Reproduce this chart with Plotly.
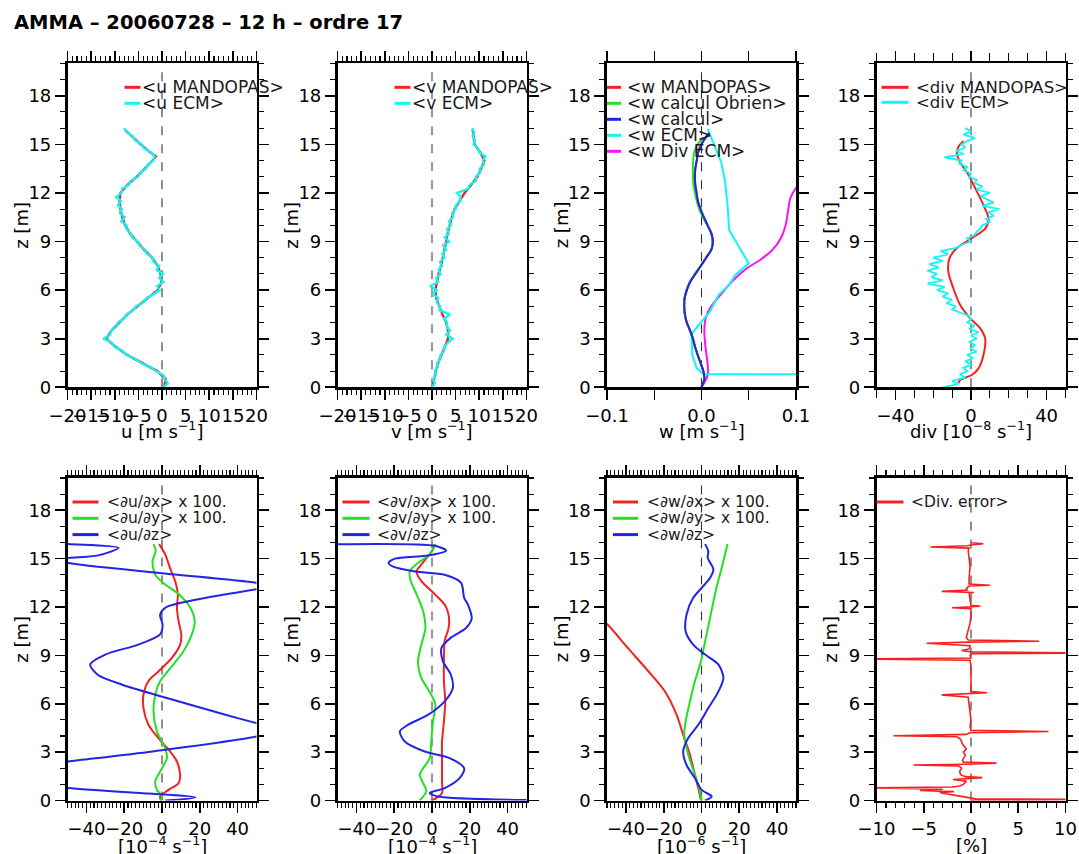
import plotly.graph_objects as go

TITLE = "AMMA – 20060728 – 12 h – ordre 17"

# ---------------- common height grids (m) ----------------
z_half = [0, 0.5, 1, 1.5, 2, 2.5, 3, 3.5, 4, 4.5, 5, 5.5, 6, 6.5, 7, 7.5, 8, 8.5, 9, 9.5,
          10, 10.5, 11, 11.5, 12, 12.5, 13, 13.5, 14, 14.5, 15, 15.5, 15.9]
z_quarter = [0, 0.25, 0.5, 0.75, 1, 1.25, 1.5, 1.75, 2, 2.25, 2.5, 2.75, 3, 3.25, 3.5, 3.75,
             4, 4.25, 4.5, 4.75, 5, 5.25, 5.5, 5.75, 6, 6.25, 6.5, 6.75, 7, 7.25, 7.5, 7.75,
             8, 8.25, 8.5, 8.75, 9, 9.25, 9.5, 9.75, 10, 10.25, 10.5, 10.75, 11, 11.25, 11.5, 11.75,
             12, 12.25, 12.5, 12.75, 13, 13.25, 13.5, 13.75, 14, 14.25, 14.5, 14.75, 15, 15.25, 15.5, 15.75, 16]
z_fifth = [0, 0.2, 0.4, 0.6, 0.8, 1, 1.2, 1.4, 1.6, 1.8, 2, 2.2, 2.4, 2.6, 2.8, 3, 3.2, 3.4, 3.6, 3.8,
           4, 4.2, 4.4, 4.6, 4.8, 5, 5.2, 5.4, 5.6, 5.8, 6, 6.2, 6.4, 6.6, 6.8, 7, 7.2, 7.4, 7.6, 7.8,
           8, 8.2, 8.4, 8.6, 8.8, 9, 9.2, 9.4, 9.6, 9.8, 10, 10.2, 10.4, 10.6, 10.8, 11, 11.2, 11.4, 11.6, 11.8,
           12, 12.2, 12.4, 12.6, 12.8, 13, 13.2, 13.4, 13.6, 13.8, 14, 14.2, 14.4, 14.6, 14.8, 15, 15.2, 15.4, 15.6, 15.8, 16]

# ---------------- panel 1 : u [m/s] ----------------
z_u = [0, 0.5, 1, 1.5, 2, 2.5, 3, 3.5, 4, 4.5, 5, 5.5, 6, 6.5, 7, 7.5, 8, 8.5, 9, 9.5,
       10, 10.5, 11, 11.5, 12, 12.5, 13, 13.5, 14, 14.25, 14.5, 15, 15.5, 15.9]
u_mandopas = [0.4, 0.8, -1.0, -4.2, -7.4, -9.8, -11.8, -10.7, -9.1, -7.3, -5.2, -3.0, -0.9, -0.1, -0.3, -0.9,
              -2.1, -3.8, -5.3, -6.8, -7.8, -8.4, -8.8, -9.0, -8.8, -7.3, -5.3, -3.6, -2.0, -1.3, -2.5, -4.5, -6.4, -7.9]
u_ecm = [0.2, 1.2, 0.6, 0.3, -1.3, -2.4, -4.5, -5.6, -7.6, -8.4, -10.1, -10.6, -12.4, -11.0, -10.8, -9.6,
         -9.3, -8.0, -7.5, -6.1, -5.5, -3.9, -3.3, -1.7, -0.5, -1.0, 0.3, -0.6, 0.2, -1.1, -0.6, -1.8,
         -1.9, -3.2, -3.6, -4.8, -5.1, -6.3, -6.6, -7.5, -7.5, -8.6, -7.9, -8.9, -8.5, -9.3, -8.7, -9.7,
         -8.6, -8.4, -7.0, -6.6, -5.0, -4.7, -3.4, -3.0, -1.8, -1.6, -2.3, -3.8, -4.3, -5.7, -6.2, -7.5, -8.0]

# ---------------- panel 2 : v [m/s] ----------------
v_mandopas = [0.1, 0.4, 0.8, 1.3, 2.0, 2.8, 3.4, 3.4, 3.0, 2.2, 1.5, 0.9, 0.7, 1.0, 1.4, 1.9, 2.3, 2.7, 3.0, 3.3,
              3.7, 4.2, 4.8, 5.8, 6.9, 8.3, 9.6, 10.4, 11.1, 10.2, 9.0, 8.8, 8.6]
v_ecm = [0.0, 0.6, 0.2, 0.8, 0.6, 1.2, 1.1, 1.8, 1.8, 2.6, 2.6, 3.3, 4.4, 3.0, 3.8, 3.1,
         3.2, 2.6, 3.8, 1.6, 1.7, 1.0, 1.3, 0.2, 1.0, -0.4, 1.3, 0.9, 1.8, 1.4, 2.1, 1.7,
         2.6, 2.2, 3.0, 2.4, 3.6, 2.7, 3.6, 3.2, 4.0, 3.6, 4.5, 4.3, 5.0, 5.1, 6.0, 6.1,
         5.3, 7.6, 8.0, 9.3, 9.3, 10.2, 10.1, 11.0, 10.8, 11.3, 10.0, 9.8, 8.8, 9.1, 8.6, 8.9, 8.5]

# ---------------- panel 3 : w [m/s] ----------------
z_wcalc = [0, 0.5, 1, 1.5, 2, 2.5, 3, 3.5, 4, 4.5, 5, 5.5, 6, 6.5, 7, 7.5, 8, 8.5, 9, 9.5,
           10, 10.5, 11, 11.5, 12, 12.5, 13, 13.5, 14, 14.5, 15, 15.5, 15.7]
w_mandopas = [0.0, 0.003, 0.002, -0.001, -0.004, -0.0068, -0.009, -0.0121, -0.0156, -0.0176, -0.0183, -0.0179,
              -0.0156, -0.0121, -0.0066, -0.0006, 0.0049, 0.0104, 0.0119, 0.0104, 0.0064, 0.0024, -0.0011,
              -0.0039, -0.0053, -0.0066, -0.0071, -0.0066, -0.0051, -0.0036, -0.0001, 0.0054, 0.0084]
w_calcul = [0.0, 0.003, 0.002, -0.001, -0.004, -0.0068, -0.009, -0.012, -0.0155, -0.0175, -0.0182, -0.0178,
            -0.0155, -0.012, -0.0065, -0.0005, 0.005, 0.0105, 0.012, 0.0105, 0.0065, 0.0025, -0.001,
            -0.0038, -0.0052, -0.0065, -0.007, -0.0065, -0.005, -0.0035, 0.0, 0.0055, 0.0085]
z_wob = [0, 0.5, 1, 1.5, 2, 2.5, 3, 3.5, 4, 4.5, 5, 5.5, 6, 6.5, 7, 7.5, 8, 8.5, 9, 9.5,
         10, 10.5, 11, 11.5, 12, 12.5, 13, 13.5, 14, 14.5, 15, 15.4]
w_obrien = [0.0, 0.003, 0.002, -0.001, -0.0042, -0.007, -0.0093, -0.0123, -0.0158, -0.0178,
            -0.0186, -0.0182, -0.016, -0.0125, -0.007, -0.001, 0.0045, 0.0102, 0.0118, 0.0102,
            0.006, 0.0015, -0.0025, -0.005, -0.007, -0.0085, -0.009, -0.0092, -0.0088, -0.0078, -0.004, 0.002]
z_wecm = [0.77, 0.82, 1.17, 2.0, 3.27, 3.95, 4.67, 5.7, 6.3, 6.93, 7.65, 9.7, 11.25, 12.7, 13.9, 15.1, 15.95]
w_ecm = [0.3, 0.002, -0.005, -0.0098, -0.0105, -0.0016, 0.009, 0.018, 0.029, 0.0357, 0.05, 0.0293,
         0.0275, 0.025, 0.0208, 0.0126, 0.0066]
z_wdiv = [0.0, 0.35, 0.76, 1.38, 2.4, 3.44, 4.26, 4.88, 5.7, 6.52, 7.35, 7.86, 8.48, 9.2, 10.0, 11.05,
          11.67, 12.3, 13.0, 14.0]
w_div_ecm = [0.0, 0.0037, 0.0066, 0.0066, 0.0044, 0.003, 0.0044, 0.009, 0.02, 0.032, 0.048, 0.062,
             0.075, 0.084, 0.089, 0.092, 0.094, 0.1, 0.112, 0.125]

# ---------------- panel 4 : div [1e-8 /s] ----------------
z_div = [0.25, 0.45, 0.76, 1.17, 2.0, 3.0, 3.64, 4.26, 5.1, 6.1, 7.14, 7.96, 8.6, 9.2, 9.8, 10.4,
         11.25, 12.3, 13.1, 13.9, 14.45, 14.85, 15.2]
div_mandopas = [-6.6, -5.8, 0.4, 4.0, 6.6, 7.5, 4.9, -0.4, -5.8, -9.3, -12, -11.4, -7.5, 0.4, 7.5, 9.3,
                6.6, 2.2, -1.3, -5.8, -7.5, -6.6, -4.0]
div_ecm = [-15, -7, -10, -3, -6, -2, -4, 0, -3, 1,
           -2, 3, 0, 2, -1, 3, 0, 4, -1, 2,
           -2, 0, -1, -5, -10, -8, -13, -10, -15, -12,
           -18, -14, -23, -15, -21, -18, -23, -17, -22, -15,
           -20, -12, -16, -8, -5, 0, -2, 2, 3, 5,
           6, 10, 8, 12, 9, 15, 6, 12, 8, 5,
           10, 3, 6, 2, 3, -1, 0, -4, -2, -6,
           -5, -14, -4, -8, -3, -5, -2, 2, -4, 0,
           -3]

# ---------------- panel 5 : du/dx, du/dy (x100), du/dz ----------------
z_dudx = [0, 0.25, 0.66, 1.08, 1.6, 2.42, 3.04, 3.87, 4.7, 5.73, 6.56, 7.4, 8.0, 8.84, 9.67, 10.3,
          11.1, 11.95, 12.8, 13.6, 14.4, 15.26, 15.9]
dudx = [-0.4, -1, 3.5, 8.8, 9.6, 7.9, 4.3, -1.9, -7.2, -9.8, -9.8, -7.2, -1.9, 5.2, 9.6, 10.2,
        8.8, 7.9, 8.4, 7, 4.3, 1.7, -1.5]
z_dudy = [0, 0.25, 0.66, 1.18, 1.8, 2.63, 3.25, 4.29, 5.53, 6.56, 7.4, 8.2, 9.25, 10.3, 11.1, 11.95,
          12.8, 13.4, 14.0, 14.85, 15.5, 15.9]
dudy = [-1, 0, -2.7, -3.6, -1, 2.6, 1.7, -2.7, -4.5, -3.6, -1, 4.3, 11.4, 15.8, 17.3, 15,
        8.8, 1.7, -3.6, -5, -3.3, -4.5]
z_dudz = [0, 0.19, 0.77, 1.2, 1.8, 2.26, 2.42, 3.04, 3.97, 4.4, 4.8, 5.3, 5.94, 6.56, 7.18, 7.8, 8.43,
          9.05, 9.67, 10.3, 10.9, 11.5, 11.95, 12.5, 13.1, 13.3, 13.5, 14.1, 14.74, 14.95, 15.2, 15.67,
          15.9, 16.0]
dudz = [1.7, 17.6, -49.6, -75, -75, -60, -49.6, -5, 50, 62, 50, 34, 15, -3.6, -21, -34, -38,
        -30, -12.5, -1, 0.3, -1, 1.7, 20, 50, 58, 50, 0, -50, -55, -33.7, -23,
        -49.6, -60]

# ---------------- panel 6 : dv/dx, dv/dy (x100), dv/dz ----------------
z_dvdx = [0, 0.15, 0.46, 1.18, 2.42, 3.66, 4.9, 6.15, 7.4, 8.6, 9.9, 10.7, 11.5, 12.15, 12.8, 13.6,
          14.2, 14.64, 15.57, 15.9]
dvdx = [-0.4, 2.3, 5.3, 5.3, 5.3, 5.3, 6.3, 7, 6.3, 6.3, 6.7, 8.8, 8.8, 6.7, 1.4, -5.6,
        -8.2, -5.6, 0.5, 1.4]
z_dvdy = [0, 0.56, 0.97, 1.6, 2.0, 2.63, 3.66, 4.9, 5.94, 6.56, 7.6, 8.63, 9.67, 10.7, 11.74, 12.8,
          13.6, 14.2, 14.74, 15.26, 15.9]
dvdy = [-6.5, -3, -4.2, -6.5, -4.7, -1.2, -0.4, 0.5, 1.8, -0.4, -5.6, -7.4, -5.6, -3.5, -4.7, -8.2,
        -11.2, -11.8, -7.4, -1.2, 1.8]
z_dvdz = [0, 0.25, 0.46, 0.77, 1.39, 2.0, 2.63, 3.04, 3.66, 4.29, 4.7, 5.32, 6.15, 6.98, 7.8, 8.63,
          9.46, 10.1, 10.7, 11.3, 12.15, 12.57, 13.5, 14.0, 14.2, 14.5, 14.74, 15.0, 15.2, 15.5, 15.78, 15.87]
dvdz = [70, 3.2, -1.2, 6.7, 14.6, 17, 9.3, -3.9, -14.4, -17, -12.6, -2, 6.7, 11, 10, 5.8,
        5, 10, 18, 21, 19, 17, 15.4, 6.7, -9, -20.5, -23, -19.6, -2, 7.5, 2, -60]

# ---------------- panel 7 : dw/dx, dw/dy (x100), dw/dz ----------------
z_dwdx = [0, 0.56, 1.6, 2.84, 4.08, 5.32, 6.77, 8.0, 9.46, 10.9, 11.5]
dwdx = [-0.3, -1.3, -3.5, -6.1, -9.7, -13.2, -19.4, -28, -39, -49.6, -56]
z_dwdy = [0, 0.56, 1.6, 2.84, 4.08, 4.9, 6.15, 7.4, 8.63, 9.87, 11.3, 12.98, 14.43, 15.9]
dwdy = [0, -0.8, -3.5, -7.0, -9.1, -8.4, -6.1, -3.5, -0.3, 1.9, 4.5, 7.5, 10.7, 13.8]
z_dwdz = [0, 0.25, 0.66, 1.39, 2.2, 3.04, 3.87, 4.7, 5.73, 6.77, 7.6, 8.43, 9.05, 9.67, 10.5, 11.53,
          12.57, 13.19, 13.8, 14.33, 15.05, 15.46, 15.9]
dwdz = [1.9, 5.4, 0.1, -3.5, -7.9, -9.7, -7, -1.7, 3.6, 9, 11.6, 9, 1.9, -4.4, -8.4, -7.9,
        -4.4, 0.1, 4.5, 6.3, 3.3, 3.6, 1.9]

# ---------------- panel 8 : divergence error [%] ----------------
z_err = [0.0, 0.06, 0.1, 0.2, 0.3, 0.4, 0.5, 0.55, 0.62, 0.7, 0.78, 0.84, 0.9, 1.0, 1.2, 1.3, 1.35,
         1.42, 1.48, 1.6, 1.8, 2.0, 2.15, 2.2, 2.25, 2.32, 2.38, 2.5, 2.8, 3.0, 3.2, 3.5, 3.8, 3.95,
         4.02, 4.1, 4.2, 4.28, 4.35, 4.6, 5.0, 5.5, 6.0, 6.4, 6.55, 6.62, 6.68, 6.75, 7.2, 7.8, 8.3,
         8.7, 8.78, 8.84, 9.0, 9.1, 9.15, 9.22, 9.3, 9.4, 9.6, 9.75, 9.82, 9.88, 9.95, 10.1, 10.5,
         11.0, 11.5, 11.9, 11.95, 12.0, 12.05, 12.1, 12.5, 12.85, 12.9, 12.97, 13.05, 13.15, 13.3,
         13.35, 13.42, 13.8, 14.5, 15.0, 15.5, 15.65, 15.72, 15.8, 15.85, 15.92, 15.98]
div_error = [0.0, 12, 0.5, -0.8, -1.5, -2.5, -3.3, -1.8, -5.4, -3.0, -11, -2.0, -1.2, -0.8, -0.5, -1.9, -0.4,
             1.2, -0.6, -1.1, -1.2, -1.0, -1.3, -6.1, -0.6, 2.7, -0.8, -0.9, -0.6, -0.8, -0.5, -0.9, -1.1, -1.5,
             -8.2, -0.5, -0.1, 8.2, 0.0, -0.1, 0.0, -0.1, -0.2, -0.3, -3.1, -0.1, 1.7, 0.0, 0.0, 0.0, 0.0,
             -0.1, -12, 0.0, -0.1, 0.0, 12, 0.0, -1.0, -0.2, -0.1, -4.7, -0.2, 7.2, -0.3, -0.5, -0.3,
             -0.1, 0.0, 0.0, -2.0, 0.0, 1.0, 0.0, -0.1, -0.2, 0.3, -3.1, -0.4, -0.5, -0.2,
             2.0, -0.2, -0.2, -0.1, -0.2, -0.3, -0.2, -4.3, -0.4, 0.0, 1.3, 0.0]

# ---------------- styling ----------------
RED, GREEN, BLUE, CYAN, MAGENTA = "#f52020", "#22e022", "#2424e6", "#12f5f5", "#f514f5"
W, H = 1079, 854
COLS = [(67.5, 256.5), (337.5, 526.5), (607.0, 796.0), (876.5, 1065.5)]
ROWS = [(63.3, 387.3), (478.0, 800.5)]
FONT = "DejaVu Sans"

fig = go.Figure()


def add(panel, x, y, color, width=2.0, shape="linear"):
    fig.add_trace(go.Scatter(x=x, y=y, mode="lines",
                             line=dict(color=color, width=width, shape=shape, smoothing=0.8),
                             xaxis="x" if panel == 1 else f"x{panel}",
                             yaxis="y" if panel == 1 else f"y{panel}",
                             showlegend=False, hoverinfo="skip"))


add(1, u_mandopas, z_u, RED, 2.4)
add(1, u_ecm, z_quarter, CYAN, 2.4)
add(2, v_mandopas, z_half, RED, 2.4)
add(2, v_ecm, z_quarter, CYAN, 2.4)
add(3, w_div_ecm, z_wdiv, MAGENTA, 2.0, "spline")
add(3, w_ecm, z_wecm, CYAN, 2.0)
add(3, w_mandopas, z_wcalc, RED, 2.0, "spline")
add(3, w_obrien, z_wob, GREEN, 2.0, "spline")
add(3, w_calcul, z_wcalc, BLUE, 2.0, "spline")
add(4, div_mandopas, z_div, RED, 2.0, "spline")
add(4, div_ecm, z_fifth, CYAN, 1.8)
add(5, dudx, z_dudx, RED, 2.0, "spline")
add(5, dudy, z_dudy, GREEN, 2.0, "spline")
add(5, dudz, z_dudz, BLUE, 2.0, "spline")
add(6, dvdx, z_dvdx, RED, 2.0, "spline")
add(6, dvdy, z_dvdy, GREEN, 2.0, "spline")
add(6, dvdz, z_dvdz, BLUE, 2.0, "spline")
add(7, dwdx, z_dwdx, RED, 2.0, "spline")
add(7, dwdy, z_dwdy, GREEN, 2.0, "spline")
add(7, dwdz, z_dwdz, BLUE, 2.0, "spline")
add(8, div_error, z_err, RED, 1.6)

# axis definitions per panel: range, tick values, tick labels, minor step, minor length
AXES = {
    1: ([-20, 20], [-20, -15, -10, -5, 0, 5, 10, 15, 20],
        ["−20", "−15", "−10", "−5", "0", "5", "10", "15", "20"], 1, 5),
    2: ([-20, 20], [-20, -15, -10, -5, 0, 5, 10, 15, 20],
        ["−20", "−15", "−10", "−5", "0", "5", "10", "15", "20"], 1, 5),
    3: ([-0.1, 0.1], [-0.1, 0, 0.1], ["−0.1", "0.0", "0.1"], 0.05, 10),
    4: ([-50, 50], [-40, 0, 40], ["−40", "0", "40"], 10, 8),
    5: ([-50, 50], [-40, -20, 0, 20, 40], ["−40", "−20", "0", "20", "40"], 2, 5),
    6: ([-50, 50], [-40, -20, 0, 20, 40], ["−40", "−20", "0", "20", "40"], 2, 5),
    7: ([-50, 50], [-40, -20, 0, 20, 40], ["−40", "−20", "0", "20", "40"], 2, 5),
    8: ([-10, 10], [-10, -5, 0, 5, 10], ["−10", "−5", "0", "5", "10"], 1, 5),
}
XTITLES = {
    1: "u [m s<sup>−1</sup>]", 2: "v [m s<sup>−1</sup>]", 3: "w [m s<sup>−1</sup>]",
    4: "div [10<sup>−8</sup> s<sup>−1</sup>]",
    5: "[10<sup>−4</sup> s<sup>−1</sup>]", 6: "[10<sup>−4</sup> s<sup>−1</sup>]",
    7: "[10<sup>−6</sup> s<sup>−1</sup>]", 8: "[%]",
}
LEGENDS = {
    1: [("<u MANDOPAS>", RED), ("<u ECM>", CYAN)],
    2: [("<v MANDOPAS>", RED), ("<v ECM>", CYAN)],
    3: [("<w MANDOPAS>", RED), ("<w calcul Obrien>", GREEN), ("<w calcul>", BLUE),
        ("<w ECM>", CYAN), ("<w Div ECM>", MAGENTA)],
    4: [("<div MANDOPAS>", RED), ("<div ECM>", CYAN)],
    5: [("<∂u/∂x> x 100.", RED), ("<∂u/∂y> x 100.", GREEN), ("<∂u/∂z>", BLUE)],
    6: [("<∂v/∂x> x 100.", RED), ("<∂v/∂y> x 100.", GREEN), ("<∂v/∂z>", BLUE)],
    7: [("<∂w/∂x> x 100.", RED), ("<∂w/∂y> x 100.", GREEN), ("<∂w/∂z>", BLUE)],
    8: [("<Div. error>", RED)],
}
# legend geometry (px from frame left): line start, line length, text start, font size, row step
LEG_GEOM = {
    1: (57, 16, 72, 17, 16), 2: (57, 16, 72, 17, 16), 3: (0, 14, 18, 17, 16), 4: (5, 27, 37, 16.5, 15),
    5: (5, 26, 37, 15.5, 16.3), 6: (5, 27, 37, 15.5, 16.3), 7: (6, 25, 38, 15.5, 16.3), 8: (0, 27, 32, 15.5, 16.3),
}

layout = dict(width=W, height=H, margin=dict(l=0, r=0, t=0, b=0, autoexpand=False),
              paper_bgcolor="white", plot_bgcolor="white", showlegend=False,
              font=dict(family=FONT, color="black"))
annotations = []
shapes = []

for p in range(1, 9):
    col = (p - 1) % 4
    row = (p - 1) // 4
    x0, x1 = COLS[col]
    ytop, ybot = ROWS[row]
    rng, tv, tt, mdt, mlen = AXES[p]
    xk = "xaxis" if p == 1 else f"xaxis{p}"
    yk = "yaxis" if p == 1 else f"yaxis{p}"
    xr = "x" if p == 1 else f"x{p}"
    yr = "y" if p == 1 else f"y{p}"
    layout[xk] = dict(domain=[x0 / W, x1 / W], range=rng, anchor=yr, automargin=False,
                      tickmode="array", tickvals=tv, ticktext=tt, tickangle=0,
                      ticks="outside", ticklen=10, tickwidth=1.6, tickcolor="black",
                      showline=True, linewidth=2.6, linecolor="black", mirror="ticks",
                      showgrid=False, zeroline=False,
                      tickfont=dict(family=FONT, size=18, color="black"),
                      minor=dict(tickmode="linear", tick0=0, dtick=mdt, ticks="outside",
                                 ticklen=mlen, tickwidth=1.1, tickcolor="black", showgrid=False))
    layout[yk] = dict(domain=[1 - ybot / H, 1 - ytop / H], range=[0, 20], anchor=xr, automargin=False,
                      tickmode="array", tickvals=[0, 3, 6, 9, 12, 15, 18],
                      ticktext=["0", "3", "6", "9", "12", "15", "18"], tickangle=0,
                      ticks="outside", ticklen=10, tickwidth=1.6, tickcolor="black",
                      showline=True, linewidth=2.6, linecolor="black", mirror="ticks",
                      showgrid=False, zeroline=False,
                      tickfont=dict(family=FONT, size=18, color="black"),
                      minor=dict(tickmode="linear", tick0=0, dtick=1, ticks="outside",
                                 ticklen=5, tickwidth=1.1, tickcolor="black", showgrid=False))

    # dashed zero reference line
    gray = p in (2, 6)
    shapes.append(dict(type="line", xref=xr, yref=f"{yr} domain", x0=0, x1=0, y0=0, y1=1,
                       layer="below",
                       line=dict(color="#9a9a9a" if gray else "#333333",
                                 width=2.2 if gray else 1.1, dash="dash")))

    # axis titles
    annotations.append(dict(text="z [m]", xref="paper", yref="paper",
                            x=(x0 - 46) / W, y=1 - (ytop + ybot) / 2 / H,
                            xanchor="center", yanchor="middle", textangle=-90, showarrow=False,
                            font=dict(family=FONT, size=18, color="black")))
    ty = 430 if row == 0 else 845
    annotations.append(dict(text=XTITLES[p], xref="paper", yref="paper",
                            x=(x0 + x1) / 2 / W, y=1 - ty / H,
                            xanchor="center", yanchor="middle", showarrow=False,
                            font=dict(family=FONT, size=18, color="black")))

    # in-plot legend
    ls, ll, ts, fs, step = LEG_GEOM[p]
    for k, (label, color) in enumerate(LEGENDS[p]):
        yy = ytop + 24 + k * step
        shapes.append(dict(type="line", xref="paper", yref="paper",
                           x0=(x0 + ls) / W, x1=(x0 + ls + ll) / W,
                           y0=1 - yy / H, y1=1 - yy / H,
                           line=dict(color=color, width=3)))
        safe = label.replace("<", "&lt;").replace(">", "&gt;")
        annotations.append(dict(text=safe, xref="paper", yref="paper",
                                x=(x0 + ts) / W, y=1 - yy / H,
                                xanchor="left", yanchor="middle", showarrow=False,
                                font=dict(family=FONT, size=fs, color="#1a1a1a")))

annotations.append(dict(text="<b>" + TITLE + "</b>", xref="paper", yref="paper",
                        x=12 / W, y=1 - 22 / H, xanchor="left", yanchor="middle",
                        showarrow=False, font=dict(family=FONT, size=19.5, color="black")))

layout["annotations"] = annotations
layout["shapes"] = shapes
fig.update_layout(**layout)
fig.write_html("out.html",
               config={"displayModeBar": False, "staticPlot": True},
               post_script="document.body.style.margin='0px';document.body.style.overflow='hidden';")
